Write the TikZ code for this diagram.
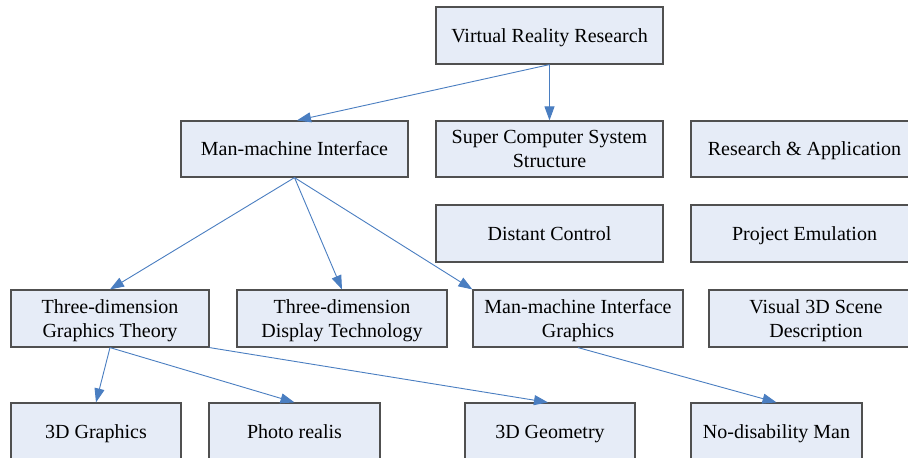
\documentclass[tikz,border=0pt]{standalone}
\usepackage{fontspec}
\setmainfont{Liberation Serif}
\usetikzlibrary{arrows.meta}

\definecolor{boxfill}{RGB}{230,236,247}
\definecolor{boxline}{RGB}{80,80,80}
\definecolor{linkblue}{RGB}{74,126,193}

\tikzset{
  topic/.style={draw=boxline, line width=1.2pt, fill=boxfill, inner sep=0pt,
    align=center, font=\fontsize{20}{24}\selectfont,
    text height=15pt, text depth=2pt},
  twoline/.style={text height=39pt, text depth=2pt},
  link/.style={draw=linkblue, line width=0.9pt,
    -{Triangle[length=14pt,width=10pt]}}
}

\begin{document}
\begin{tikzpicture}[x=1pt, y=-1pt]
  \useasboundingbox (0,0) rectangle (908,458);
  \fill[white] (0,0) rectangle (908,458);
  \clip (0,0) rectangle (908,458);

  % top level
  \node[topic, minimum width=227pt, minimum height=57pt] (vrr) at (549.5,35.5) {Virtual Reality Research};

  % second row
  \node[topic, minimum width=227pt, minimum height=56pt] (mmi) at (294.5,149) {Man-machine Interface};
  \node[topic, twoline, minimum width=227pt, minimum height=56pt] (scs) at (549.5,149) {Super Computer System\\Structure};
  \node[topic, minimum width=227pt, minimum height=56pt] (ra)  at (804.5,149) {Research \& Application};

  % third row
  \node[topic, minimum width=227pt, minimum height=57pt] (dc) at (549.5,233.5) {Distant Control};
  \node[topic, minimum width=227pt, minimum height=57pt] (pe) at (804.5,233.5) {Project Emulation};

  % fourth row
  \node[topic, twoline, minimum width=198pt, minimum height=57pt] (tgt) at (110,318.5) {Three-dimension\\Graphics Theory};
  \node[topic, twoline, minimum width=210pt, minimum height=57pt] (tdd) at (342,318.5) {Three-dimension\\Display Technology};
  \node[topic, twoline, minimum width=210pt, minimum height=57pt] (mmg) at (578,318.5) {Man-machine Interface\\Graphics};
  \node[topic, twoline, minimum width=214pt, minimum height=57pt] (v3d) at (816,318.5) {Visual 3D Scene\\Description};

  % bottom row
  \node[topic, minimum width=170pt, minimum height=57pt] (g3d) at (96,431.5) {3D Graphics};
  \node[topic, minimum width=171pt, minimum height=57pt] (pr)  at (294.5,431.5) {Photo realis};
  \node[topic, minimum width=170pt, minimum height=57pt] (geo) at (550,431.5) {3D Geometry};
  \node[topic, minimum width=171pt, minimum height=57pt] (ndm) at (776.5,431.5) {No-disability Man};

  % connectors
  \draw[link] (vrr.south) -- ([xshift=2.5pt]mmi.north);
  \draw[link] (vrr.south) -- (scs.north);
  \draw[link] (mmi.south) -- (tgt.north);
  \draw[link] (mmi.south) -- (tdd.north);
  \draw[link] (mmi.south) -- (mmg.north west);
  \draw[link] (tgt.south) -- (g3d.north);
  \draw[link] (tgt.south) -- (pr.north);
  \draw[link] (tgt.south east) -- ([xshift=-2pt]geo.north);
  \draw[link] (mmg.south) -- (ndm.north);
\end{tikzpicture}
\end{document}
